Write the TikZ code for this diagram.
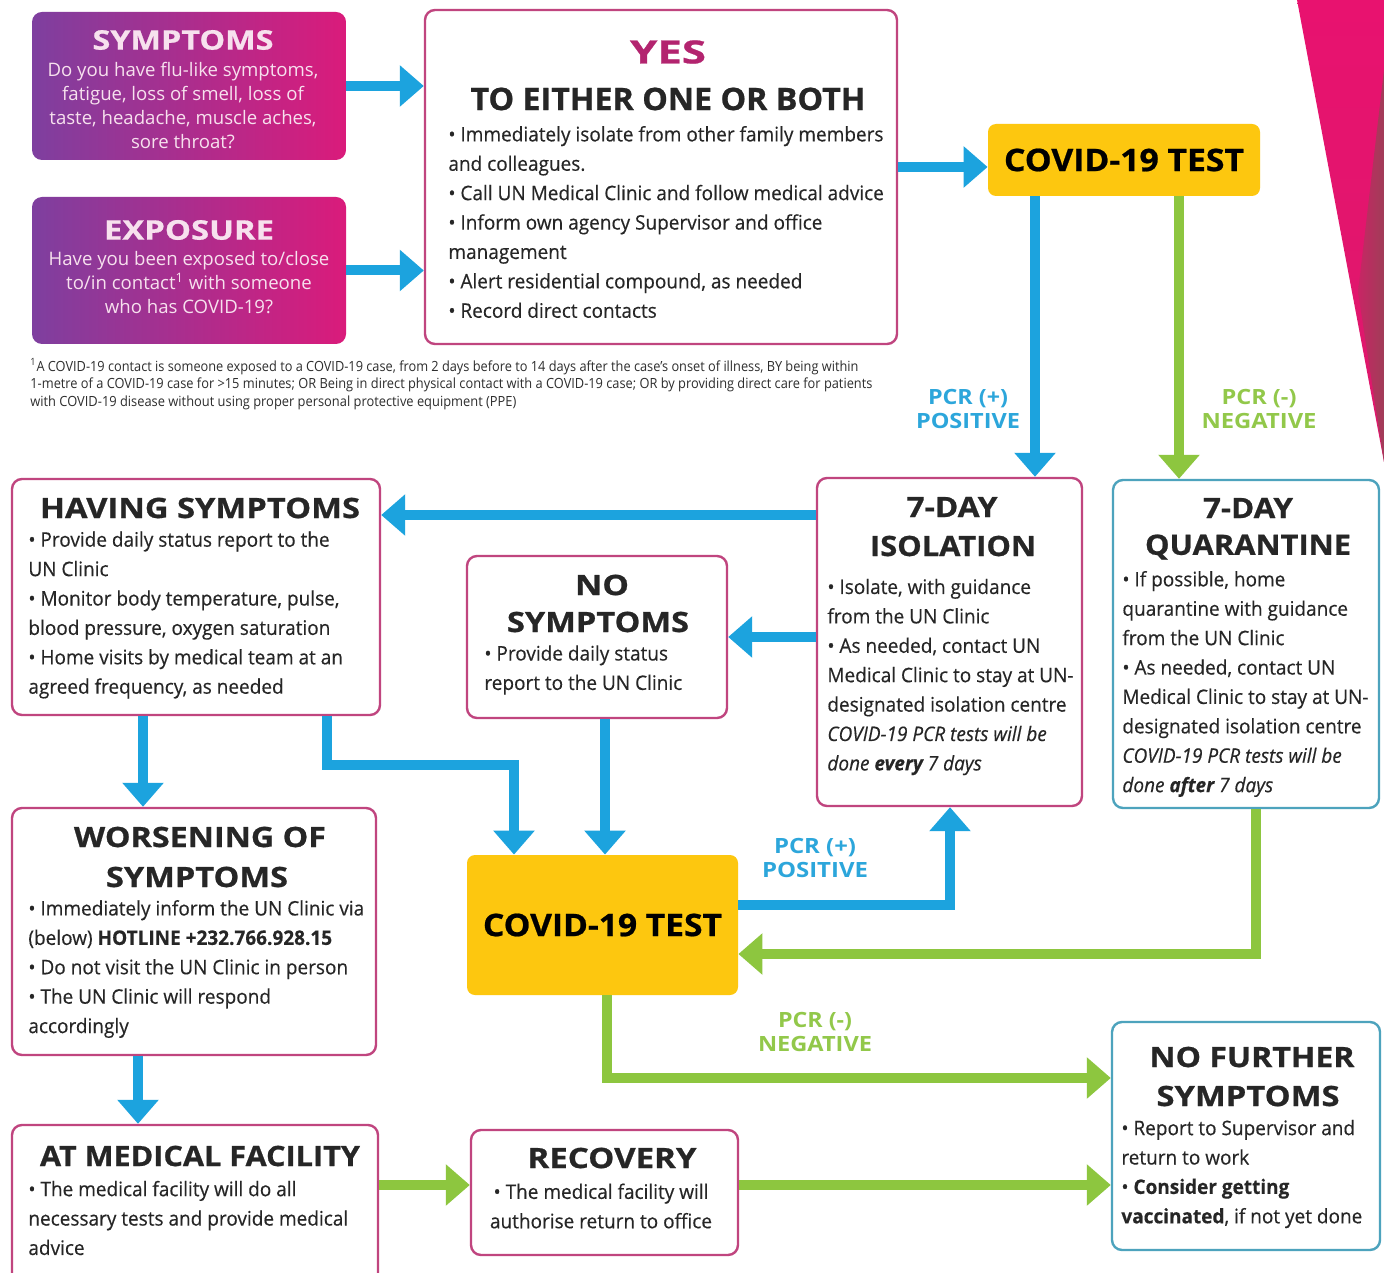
\documentclass[tikz,border=0pt]{standalone}
\usepackage{fontspec}
\usepackage{graphicx}
\setmainfont{Open Sans}
\newfontfamily\bodyf{Open Sans}[FakeStretch=0.95, FakeBold=0.35]
\newfontfamily\headf{Open Sans}[FakeBold=0.7]
\usetikzlibrary{arrows.meta}

% one pixel of the sheet
\newlength\pxu
\setlength\pxu{0.5pt}
% set a line to a given width (in pixels), keeping its height
\newcommand\hw[2]{\resizebox{#1\pxu}{\height}{#2}}

\definecolor{cblue}{HTML}{1CA3DE}
\definecolor{cgreen}{HTML}{8DC63F}
\definecolor{cyellow}{HTML}{FDC70F}
\definecolor{rim}{HTML}{C0457F}
\definecolor{rimteal}{HTML}{4DA3BD}
\definecolor{gpurple}{HTML}{7E3F9F}
\definecolor{gmagenta}{HTML}{DA1B7B}
\definecolor{gtext}{HTML}{F7E1EE}
\definecolor{yesmag}{HTML}{B3246F}
\definecolor{ink}{HTML}{262626}
\definecolor{foot}{HTML}{2E2E2E}
\definecolor{lblue}{HTML}{2CA6DB}
\definecolor{lgreen}{HTML}{92C84A}
\definecolor{fpink}{HTML}{E8126F}
\definecolor{fmaroon}{HTML}{A03D58}

\begin{document}
\begin{tikzpicture}[x=0.5pt,y=-0.5pt,
  panel/.style={draw=rim, line width=1.2pt, rounded corners=5pt, fill=white, inner sep=0pt},
  tealpanel/.style={panel, draw=rimteal},
  gradbox/.style={rounded corners=5pt, left color=gpurple, right color=gmagenta, inner sep=0pt},
  testbox/.style={fill=cyellow, rounded corners=4pt, inner sep=0pt, text=black,
    font=\headf\bfseries\fontsize{15.5}{18}\selectfont},
  headtxt/.style={font=\headf\bfseries\fontsize{14}{17}\selectfont, text=ink, inner sep=0pt},
  gradhead/.style={headtxt, text=gtext, font=\headf\bfseries\fontsize{13.5}{16}\selectfont},
  gradtxt/.style={font=\fontsize{9.3}{12}\selectfont, text=gtext, align=center, inner sep=0pt},
  bodytxt/.style={font=\bodyf\fontsize{10}{14.7}\selectfont, text=ink, align=left, inner sep=0pt, anchor=west},
  pcr/.style={font=\bfseries\fontsize{10.5}{12}\selectfont, align=center, inner sep=0pt},
  barrow/.style={draw=cblue, line width=5pt, -{Triangle[width=20pt,length=12pt]}},
  garrow/.style={barrow, draw=cgreen},
]
\path[clip] (0,0) rectangle (1384,1272);
\fill[white] (0,0) rectangle (1384,1272);

% corner ribbon
\shade[top color=fpink, bottom color=fpink!85!fmaroon] (1297,0) -- (1384,0) -- (1384,462) -- cycle;
\shade[left color=fpink!55!fmaroon, right color=fmaroon] (1384,70) -- (1358,292) -- (1384,462) -- cycle;

% boxes
\node[gradbox, minimum width=157pt, minimum height=74pt] (sym) at (189,86) {};
\node[gradbox, minimum width=157pt, minimum height=73.5pt] (expo) at (189,270.5) {};
\node[panel, minimum width=236pt, minimum height=167pt] (yes) at (661,177) {};
\node[testbox, minimum width=136pt, minimum height=36pt] (testA) at (1124,160) {\hw{240}{COVID-19 TEST}};
\node[panel, minimum width=184pt, minimum height=118pt] (hav) at (196,597) {};
\node[panel, minimum width=130pt, minimum height=81pt] (nos) at (597,637) {};
\node[panel, minimum width=132.5pt, minimum height=164pt] (iso) at (949.5,642) {};
\node[tealpanel, minimum width=133pt, minimum height=164pt] (qua) at (1246,644) {};
\node[panel, minimum width=182pt, minimum height=123.5pt] (wor) at (194,931.5) {};
\node[testbox, minimum width=135.5pt, minimum height=70pt] (testB) at (602.5,925) {\hw{239}{COVID-19 TEST}};
\node[panel, minimum width=183pt, minimum height=82.5pt] (med) at (195,1207.5) {};
\node[panel, minimum width=133.5pt, minimum height=62.5pt] (rec) at (604.5,1192.5) {};
\node[tealpanel, minimum width=134pt, minimum height=114pt] (nof) at (1246,1136) {};

% texts of the two questions
\node[gradhead] (sym-h) at (183,40) {\hw{181}{SYMPTOMS}};
\node[gradtxt] (sym-t) at (183,106) {Do you have flu-like symptoms,\\fatigue, loss of smell, loss of\\taste, headache, muscle aches,\\sore throat?};
\node[gradhead] (expo-h) at (189,230) {\hw{170}{EXPOSURE}};
\node[gradtxt] (expo-t) at (189,283) {Have you been exposed to/close\\to/in contact\textsuperscript{1} with someone\\who has COVID-19?};

% first actions
\node[headtxt, text=yesmag, font=\headf\bfseries\fontsize{16}{19}\selectfont] (yes-h1) at (668,52) {\hw{76}{YES}};
\node[headtxt, font=\headf\bfseries\fontsize{15.5}{18}\selectfont] (yes-h2) at (668,99) {\hw{395}{TO EITHER ONE OR BOTH}};
\node[bodytxt] (yes-t) at (448,222) {• Immediately isolate from other family members\\and colleagues.\\• Call UN Medical Clinic and follow medical advice\\• Inform own agency Supervisor and office\\management\\• Alert residential compound, as needed\\• Record direct contacts};

% footnote
\node[anchor=west, align=left, inner sep=0pt, font=\fontsize{7}{8.75}\selectfont, text=foot] (note) at (30,384) {\hw{828}{\textsuperscript{1}A COVID-19 contact is someone exposed to a COVID-19 case, from 2 days before to 14 days after the case's onset of illness, BY being within}\\\hw{842}{1-metre of a COVID-19 case for >15 minutes; OR Being in direct physical contact with a COVID-19 case; OR by providing direct care for patients}\\\hw{486}{with COVID-19 disease without using proper personal protective equipment (PPE)}};

% test outcome labels
\node[pcr, text=lblue] (posA) at (968,409) {\hw{80}{PCR (+)}\\\hw{104}{POSITIVE}};
\node[pcr, text=lgreen] (negA) at (1259,409) {\hw{75}{PCR (-)}\\\hw{115}{NEGATIVE}};
\node[pcr, text=lblue] (posB) at (815,858) {\hw{82}{PCR (+)}\\\hw{106}{POSITIVE}};
\node[pcr, text=lgreen] (negB) at (815,1032) {\hw{74}{PCR (-)}\\\hw{114}{NEGATIVE}};

% isolation and quarantine
\node[headtxt] (iso-h1) at (952,507) {\hw{91}{7-DAY}};
\node[headtxt] (iso-h2) at (953,546) {\hw{166}{ISOLATION}};
\node[bodytxt] (iso-t) at (827,677) {• Isolate, with guidance\\from the UN Clinic\\• As needed, contact UN\\Medical Clinic to stay at UN-\\designated isolation centre\\\textit{COVID-19 PCR tests will be}\\\textit{done \textbf{every} 7 days}};
\node[headtxt] (qua-h1) at (1248,508) {\hw{90}{7-DAY}};
\node[headtxt] (qua-h2) at (1248,547) {\hw{206}{QUARANTINE}};
\node[bodytxt] (qua-t) at (1122,684) {• If possible, home\\quarantine with guidance\\from the UN Clinic\\• As needed, contact UN\\Medical Clinic to stay at UN-\\designated isolation centre\\\textit{COVID-19 PCR tests will be}\\\textit{done \textbf{after} 7 days}};

% symptom tracks
\node[headtxt] (hav-h) at (200,508) {\hw{320}{HAVING SYMPTOMS}};
\node[bodytxt] (hav-t) at (28,615) {• Provide daily status report to the\\UN Clinic\\• Monitor body temperature, pulse,\\blood pressure, oxygen saturation\\• Home visits by medical team at an\\agreed frequency, as needed};
\node[headtxt] (nos-h1) at (602,585) {\hw{54}{NO}};
\node[headtxt] (nos-h2) at (598,622) {\hw{182}{SYMPTOMS}};
\node[bodytxt] (nos-t) at (484,670) {• Provide daily status\\report to the UN Clinic};
\node[headtxt] (wor-h1) at (200,837) {\hw{252}{WORSENING OF}};
\node[headtxt] (wor-h2) at (197,877) {\hw{182}{SYMPTOMS}};
\node[bodytxt] (wor-t) at (28,969) {• Immediately inform the UN Clinic via\\(below) \textbf{HOTLINE +232.766.928.15}\\• Do not visit the UN Clinic in person\\• The UN Clinic will respond\\accordingly};
\node[headtxt] (med-h) at (200,1156) {\hw{320}{AT MEDICAL FACILITY}};
\node[bodytxt] (med-t) at (28,1218) {• The medical facility will do all\\necessary tests and provide medical\\advice};
\node[headtxt] (rec-h) at (612,1158) {\hw{169}{RECOVERY}};
\node[bodytxt, anchor=center, align=center] (rec-t) at (601,1206) {• The medical facility will\\authorise return to office};
\node[headtxt] (nof-h1) at (1252,1057) {\hw{205}{NO FURTHER}};
\node[headtxt] (nof-h2) at (1248,1096) {\hw{183}{SYMPTOMS}};
\node[bodytxt] (nof-t) at (1121,1174) {• Report to Supervisor and\\return to work\\• \textbf{Consider getting}\\\textbf{vaccinated}, if not yet done};

% connectors
\coordinate (rowA) at (0,167);
\coordinate (colP) at (1035,0);
\coordinate (colN) at (1179,0);
\coordinate (rowH) at (0,515);
\coordinate (colW) at (143,0);
\coordinate (bendA) at (327,765);
\coordinate (bendB) at (514,765);
\coordinate (colS) at (605,0);
\coordinate (bendC) at (950,905);
\coordinate (bendD) at (1256,954);
\coordinate (bendE) at (607,1078);
\coordinate (colM) at (138,0);
\coordinate (rowR) at (0,1185);

\draw[barrow] (sym.east) -- (sym.east -| yes.west);
\draw[barrow] (expo.east) -- (expo.east -| yes.west);
\draw[barrow] (yes.east |- rowA) -- (testA.west |- rowA);
\draw[barrow] (testA.south -| colP) -- (iso.north -| colP);
\draw[garrow] (testA.south -| colN) -- (qua.north -| colN);
\draw[barrow] (iso.west |- rowH) -- (hav.east |- rowH);
\draw[barrow] (iso.west |- nos.east) -- (nos.east);
\draw[barrow] (hav.south -| colW) -- (wor.north -| colW);
\draw[barrow] (hav.south -| bendA) -- (bendA) -- (bendB) -- (testB.north -| bendB);
\draw[barrow] (nos.south -| colS) -- (testB.north -| colS);
\draw[barrow] (testB.east |- bendC) -- (bendC) -- (iso.south -| bendC);
\draw[garrow] (qua.south -| bendD) -- (bendD) -- (testB.east |- bendD);
\draw[garrow] (testB.south -| bendE) -- (bendE) -- (nof.west |- bendE);
\draw[barrow] (wor.south -| colM) -- (med.north -| colM);
\draw[garrow] (med.east |- rowR) -- (rec.west |- rowR);
\draw[garrow] (rec.east |- rowR) -- (nof.west |- rowR);
\end{tikzpicture}
\end{document}
